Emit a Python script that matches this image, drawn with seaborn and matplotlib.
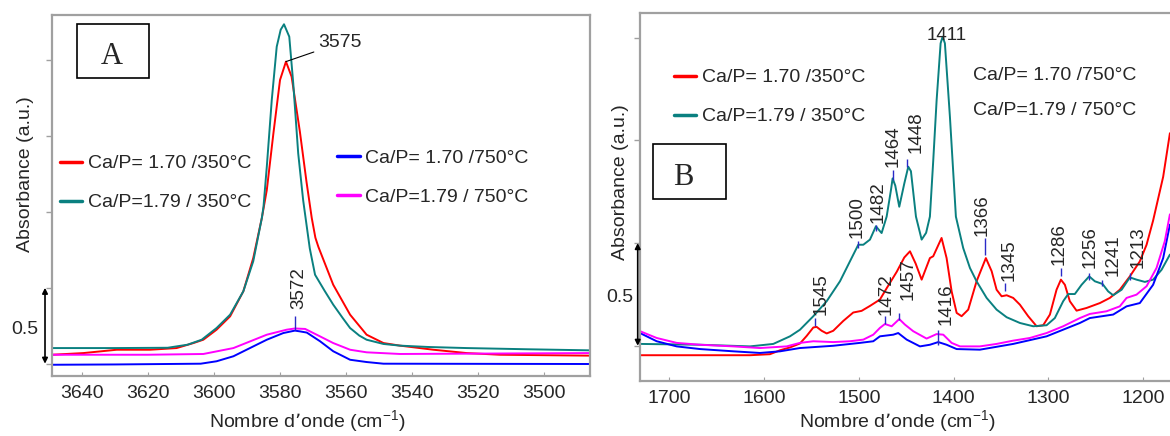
import numpy as np
import pandas as pd
import matplotlib
matplotlib.use("Agg")
import matplotlib.pyplot as plt
import seaborn as sns
from matplotlib.lines import Line2D
from matplotlib.patches import Rectangle

# ------------------------------------------------------------------ data
series_names = ["Ca/P= 1.70 /350°C", "Ca/P=1.79 / 350°C",
                "Ca/P= 1.70 /750°C", "Ca/P=1.79 / 750°C"]
series_colors = ["#ff0000", "#0a8080", "#0000ff", "#ff00ff"]

# Panel A (OH stretching region)
a_red_x = [3649, 3639.5, 3629.4, 3619.3, 3611.3, 3606.2, 3603.2, 3599.2, 3595.1, 3591.1,
           3588.1, 3585.5, 3584.0, 3582.0, 3580.0, 3578.2, 3576.5, 3574.0, 3572.0, 3570.4,
           3569.3, 3568.4, 3563.9, 3558.8, 3553.8, 3548.7, 3543.7, 3533.6, 3523.5, 3513.4, 3486.2]
a_red_y = [0.059, 0.070, 0.092, 0.092, 0.103, 0.136, 0.158, 0.224, 0.312, 0.477,
           0.696, 0.960, 1.144, 1.518, 1.869, 1.990, 1.891, 1.530, 1.200, 0.960,
           0.830, 0.770, 0.520, 0.323, 0.191, 0.136, 0.119, 0.092, 0.070, 0.059, 0.053]

a_teal_x = [3649, 3630, 3614, 3608, 3603.7, 3599.2, 3595.1, 3591.1, 3588.1, 3585.5,
            3585.0, 3584.0, 3582.5, 3581.0, 3579.8, 3578.8, 3577.2, 3576.0, 3574.5, 3573.0,
            3572.2, 3571.0, 3569.4, 3566.5, 3563.9, 3561.0, 3558.8, 3556.0, 3553.8, 3548.7,
            3543.7, 3535.0, 3523.5, 3505.0, 3486.2]
a_teal_y = [0.103, 0.103, 0.105, 0.125, 0.158, 0.235, 0.323, 0.477, 0.675, 0.960,
            1.034, 1.298, 1.737, 2.088, 2.200, 2.236, 2.154, 1.847, 1.386, 1.077,
            0.950, 0.760, 0.586, 0.480, 0.389, 0.300, 0.235, 0.185, 0.158, 0.130,
            0.119, 0.110, 0.103, 0.095, 0.088]

a_blue_x = [3649, 3630, 3604, 3599.2, 3594.1, 3589.1, 3584.0, 3579.0, 3575.5, 3574.0,
            3571.9, 3567.9, 3563.9, 3558.8, 3553.8, 3548.7, 3486.2]
a_blue_y = [-0.007, -0.005, 0.000, 0.016, 0.049, 0.103, 0.158, 0.202, 0.218, 0.213,
            0.205, 0.148, 0.082, 0.026, 0.011, 0.000, -0.002]

a_mag_x = [3649, 3620, 3603.2, 3594.1, 3584.0, 3578.0, 3575.5, 3572.4, 3567.9, 3563.9,
           3558.8, 3553.8, 3543.7, 3486.2]
a_mag_y = [0.059, 0.059, 0.064, 0.103, 0.191, 0.224, 0.232, 0.229, 0.180, 0.136,
           0.092, 0.075, 0.064, 0.070]

# Panel B (carbonate / bending region)
b_red_x = [1730.6, 1667.3, 1614.6, 1593.6, 1583.0, 1572.5, 1562.0, 1554.9, 1547.9, 1544.4,
           1539.1, 1533.8, 1526.9, 1516.3, 1505.8, 1497.0, 1488.2, 1477.7, 1470.6, 1460.0,
           1452.0, 1446.0, 1440.0, 1433.7, 1425.0, 1421.5, 1412.7, 1407.4, 1402.1, 1396.8,
           1391.6, 1384.6, 1375.8, 1366.0, 1359.9, 1354.7, 1349.4, 1344.1, 1337.2, 1330.1,
           1321.4, 1312.5, 1305.6, 1298.5, 1291.5, 1286.9, 1282.7, 1277.5, 1270.4, 1259.9,
           1245.8, 1235.3, 1224.8, 1214.2, 1203.7, 1196.6, 1189.7, 1179.1, 1172.0]
b_red_y = [-0.046, -0.046, -0.046, -0.041, -0.022, -0.008, 0.011, 0.048, 0.089, 0.092,
           0.073, 0.060, 0.073, 0.121, 0.162, 0.170, 0.194, 0.225, 0.280, 0.360,
           0.430, 0.460, 0.400, 0.322, 0.427, 0.436, 0.525, 0.427, 0.265, 0.160,
           0.144, 0.176, 0.314, 0.427, 0.363, 0.273, 0.241, 0.246, 0.233, 0.200,
           0.144, 0.095, 0.100, 0.152, 0.273, 0.322, 0.297, 0.217, 0.171, 0.184,
           0.208, 0.233, 0.273, 0.338, 0.411, 0.492, 0.610, 0.823, 1.035]

b_teal_x = [1730.6, 1667.3, 1614.6, 1590.1, 1572.5, 1562.0, 1547.9, 1533.8, 1519.8, 1509.3,
            1500.5, 1495.2, 1488.2, 1481.9, 1478.0, 1475.9, 1470.6, 1466.0, 1464.3, 1461.5,
            1457.3, 1452.0, 1447.8, 1445.0, 1439.7, 1433.7, 1429.0, 1425.0, 1421.5, 1417.9,
            1413.7, 1411.6, 1409.2, 1403.9, 1397.6, 1389.9, 1382.8, 1375.8, 1365.2, 1354.7,
            1344.1, 1330.1, 1316.1, 1302.0, 1293.3, 1284.5, 1279.2, 1272.2, 1265.1, 1257.1,
            1251.1, 1243.0, 1237.1, 1231.8, 1222.9, 1214.2, 1207.2, 1198.4, 1189.7, 1180.8,
            1172.0]
b_teal_y = [0.009, 0.005, -0.003, 0.009, 0.046, 0.078, 0.144, 0.217, 0.314, 0.411,
            0.492, 0.492, 0.517, 0.582, 0.560, 0.549, 0.629, 0.760, 0.815, 0.780,
            0.677, 0.790, 0.872, 0.850, 0.629, 0.517, 0.550, 0.629, 0.900, 1.197,
            1.473, 1.505, 1.473, 1.115, 0.629, 0.476, 0.379, 0.314, 0.233, 0.176,
            0.139, 0.111, 0.095, 0.100, 0.135, 0.217, 0.252, 0.252, 0.297, 0.338,
            0.314, 0.301, 0.265, 0.246, 0.273, 0.333, 0.322, 0.311, 0.322, 0.370,
            0.444]

b_blue_x = [1730.6, 1713.0, 1691.9, 1667.3, 1632.2, 1604.1, 1583.0, 1562.0, 1526.9, 1498.8,
            1484.7, 1477.7, 1463.6, 1458.4, 1449.5, 1435.5, 1425.0, 1416.2, 1407.4, 1396.8,
            1372.3, 1337.2, 1302.0, 1266.9, 1256.4, 1231.8, 1217.7, 1203.7, 1189.7, 1179.1,
            1172.0]
b_blue_y = [0.062, 0.022, -0.003, -0.016, -0.027, -0.035, -0.027, -0.011, 0.000, 0.014,
            0.022, 0.046, 0.054, 0.062, 0.030, -0.003, 0.005, 0.018, 0.005, -0.016,
            -0.019, 0.009, 0.046, 0.111, 0.135, 0.152, 0.192, 0.208, 0.297, 0.427,
            0.590]

b_mag_x = [1730.6, 1713.0, 1691.9, 1667.3, 1632.2, 1604.1, 1590.1, 1576.0, 1562.0, 1547.9,
           1526.9, 1509.3, 1495.2, 1484.7, 1477.7, 1472.4, 1465.3, 1457.3, 1451.3, 1442.6,
           1428.5, 1417.9, 1410.9, 1402.1, 1393.3, 1372.3, 1354.7, 1337.2, 1319.6, 1302.0,
           1284.5, 1266.9, 1256.4, 1238.8, 1224.8, 1217.7, 1207.2, 1196.6, 1186.1, 1177.4,
           1172.0]
b_mag_y = [0.071, 0.038, 0.014, 0.005, -0.003, -0.011, -0.007, -0.003, 0.014, 0.022,
           0.018, 0.022, 0.030, 0.054, 0.087, 0.106, 0.095, 0.130, 0.103, 0.071,
           0.035, 0.057, 0.054, 0.014, -0.003, -0.003, 0.009, 0.025, 0.038, 0.062,
           0.095, 0.135, 0.155, 0.168, 0.192, 0.233, 0.249, 0.290, 0.379, 0.509,
           0.640]

# Peak labels
a_peak_labels = ["3575", "3572"]
b_peak_labels = ["1545", "1500", "1482", "1464", "1448", "1366", "1345",
                 "1286", "1256", "1241", "1213", "1472", "1457", "1416"]

# ------------------------------------------------------------------ layout (annotation placement)
b_tick_x = [1546.2, 1500.5, 1481.9, 1464.3, 1448.9, 1367.0, 1345.9,
            1286.9, 1257.1, 1243.4, 1214.2, 1472.4, 1457.3, 1416.2]
b_tick_lo = [0.096, 0.476, 0.559, 0.807, 0.870, 0.443, 0.267,
             0.340, 0.322, 0.290, 0.322, 0.106, 0.127, 0.004]
b_tick_hi = [0.135, 0.510, 0.588, 0.856, 0.909, 0.525, 0.306,
             0.379, 0.354, 0.322, 0.354, 0.145, 0.160, 0.077]
b_text_x = [1540.1, 1501.4, 1479.8, 1463.6, 1440.0, 1370.2, 1341.7,
            1289.0, 1256.4, 1231.8, 1205.5, 1471.3, 1447.8, 1407.4]
b_text_y = [0.148, 0.525, 0.598, 0.872, 0.937, 0.535, 0.315,
            0.395, 0.379, 0.340, 0.379, 0.150, 0.225, 0.103]

# ------------------------------------------------------------------ style
sns.set_style("white")
plt.rcParams["font.family"] = ["Liberation Sans", "DejaVu Sans"]
plt.rcParams["mathtext.default"] = "regular"
plt.rcParams["lines.solid_joinstyle"] = "round"

SPINE = "#a0a0a0"
TICKBLUE = "#2a2ac8"
FS = 14

fig = plt.figure(figsize=(11.7, 4.36), dpi=100)
fig.patch.set_facecolor("white")
axA = fig.add_axes([52 / 1170, 1 - 376.3 / 436, 538 / 1170, 361.3 / 436])
axB = fig.add_axes([640 / 1170, 1 - 381.3 / 436, 530 / 1170, 368 / 436])

palette = dict(zip(series_names, series_colors))


def long_df(xs, ys):
    frames = []
    for name, x, y in zip(series_names, xs, ys):
        frames.append(pd.DataFrame({"wavenumber": x, "absorbance": y, "series": name}))
    return pd.concat(frames, ignore_index=True)


dfA = long_df([a_red_x, a_teal_x, a_blue_x, a_mag_x], [a_red_y, a_teal_y, a_blue_y, a_mag_y])
dfB = long_df([b_red_x, b_teal_x, b_blue_x, b_mag_x], [b_red_y, b_teal_y, b_blue_y, b_mag_y])

for ax, df in ((axA, dfA), (axB, dfB)):
    sns.lineplot(data=df, x="wavenumber", y="absorbance", hue="series", palette=palette,
                 hue_order=series_names, estimator=None, sort=False, linewidth=1.4,
                 legend=False, ax=ax)

# ------------------------------------------------------------------ axes styling
def style_axes(ax, xlim, ylim, xticks, yticks, right_spine=True):
    ax.set_xlim(*xlim)
    ax.set_ylim(*ylim)
    ax.set_xticks(xticks)
    ax.set_xticklabels([str(t) for t in xticks])
    ax.set_yticks(yticks)
    ax.set_yticklabels([])
    for name, sp in ax.spines.items():
        sp.set_color(SPINE)
        sp.set_linewidth(1.6)
        sp.set_visible(True)
    if not right_spine:
        ax.spines["right"].set_visible(False)
    ax.tick_params(axis="x", direction="in", length=3, color=SPINE, labelsize=FS, pad=6,
                   bottom=True)
    ax.tick_params(axis="y", direction="out", length=4, color=SPINE, left=True, width=1)
    ax.grid(False)


style_axes(axA, (3649.0, 3486.2), (-0.083, 2.297), [3640, 3620, 3600, 3580, 3560, 3540, 3520, 3500],
           [0, 0.5, 1.0, 1.5, 2.0])
style_axes(axB, (1730.6, 1171.9), (-0.173, 1.619), [1700, 1600, 1500, 1400, 1300, 1200],
           [0, 0.5, 1.0, 1.5], right_spine=False)

xlabel = "Nombre d’onde (cm$^{-1}$)"
for ax, xl, yl in ((axA, (0.474, -0.123), (-0.050, 0.560)),
                   (axB, (0.485, -0.107), (-0.0377, 0.540))):
    ax.set_xlabel(xlabel, fontsize=FS)
    ax.set_ylabel("Absorbance (a.u.)", fontsize=FS)
    ax.xaxis.label.set_verticalalignment("center")
    ax.yaxis.label.set_verticalalignment("center")
    ax.xaxis.set_label_coords(*xl)
    ax.yaxis.set_label_coords(*yl)

# scale bar (0.5 absorbance units)
for ax, xa in ((axA, -0.013), (axB, -0.0043)):
    trans = ax.get_yaxis_transform()
    ax.annotate("", xy=(xa, 0.0), xytext=(xa, 0.5), xycoords=trans, textcoords=trans,
                arrowprops=dict(arrowstyle="<|-|>", color="black", lw=1.2,
                                mutation_scale=8, shrinkA=0, shrinkB=0),
                annotation_clip=False)
axA.text(-0.050, 0.222, "0.5", transform=axA.get_yaxis_transform(), ha="center", va="center",
         fontsize=FS)
axB.text(-0.0377, 0.233, "0.5", transform=axB.get_yaxis_transform(), ha="center", va="center",
         fontsize=FS)

# panel boxes
for ax, (bx, by, bw, bh), (lx, ly), letter in (
        (axA, (0.0465, 0.8256, 0.1338, 0.1495), (0.111, 0.8644), "A"),
        (axB, (0.024, 0.4954, 0.1377, 0.1495), (0.0817, 0.5334), "B")):
    ax.add_patch(Rectangle((bx, by), bw, bh, transform=ax.transAxes, fill=False,
                           edgecolor="black", lw=1.2, zorder=5))
    ax.text(lx, ly, letter, transform=ax.transAxes, ha="center", va="baseline",
            fontsize=22, family=["Liberation Serif", "DejaVu Serif"], zorder=6)

# legends
def handles(idx):
    return [Line2D([], [], color=series_colors[i], lw=2.5) for i in idx]


leg_kw = dict(loc="upper left", frameon=False, fontsize=FS, handlelength=1.15,
              handletextpad=0.3, labelspacing=1.1, borderpad=0, borderaxespad=0)
legA1 = axA.legend(handles(range(0, 2)), series_names[0:2], bbox_to_anchor=(0.0149, 0.613),
                   **leg_kw)
axA.add_artist(legA1)
axA.legend(handles(range(2, 4)), series_names[2:4], bbox_to_anchor=(0.530, 0.628), **leg_kw)
axB.legend(handles(range(0, 2)), series_names[0:2], bbox_to_anchor=(0.064, 0.849), **leg_kw)
axB.text(0.628, 0.830, series_names[2], transform=axB.transAxes, ha="left", va="center",
         fontsize=FS)
axB.text(0.628, 0.737, series_names[3], transform=axB.transAxes, ha="left", va="center",
         fontsize=FS)

# ------------------------------------------------------------------ peak annotations
# Panel A: 3575 on red maximum, 3572 on blue maximum
i_red = int(np.argmax(a_red_y))
axA.annotate(a_peak_labels[0], xy=(a_red_x[i_red], a_red_y[i_red]), xytext=(3561.8, 2.113),
             ha="center", va="center", fontsize=FS,
             arrowprops=dict(arrowstyle="-", color="black", lw=0.8, shrinkA=1, shrinkB=0))
i_blue = int(np.argmax(a_blue_y))
axA.vlines(a_blue_x[i_blue], a_blue_y[i_blue] + 0.006, a_blue_y[i_blue] + 0.095,
           color=TICKBLUE, lw=1.0)
axA.text(3574.3, 0.362, a_peak_labels[1], rotation=90, ha="center", va="bottom", fontsize=13.5)

# Panel B
axB.vlines(b_tick_x, b_tick_lo, b_tick_hi, color=TICKBLUE, lw=1.0)
for lab, tx, ty in zip(b_peak_labels, b_text_x, b_text_y):
    axB.text(tx, ty, lab, rotation=90, ha="center", va="bottom", fontsize=13.5)
i_teal = int(np.argmax(b_teal_y))
axB.text(1407.4, b_teal_y[i_teal] + 0.005, "1411", ha="center", va="center", fontsize=13.5)

fig.savefig("out.png", dpi=100)
